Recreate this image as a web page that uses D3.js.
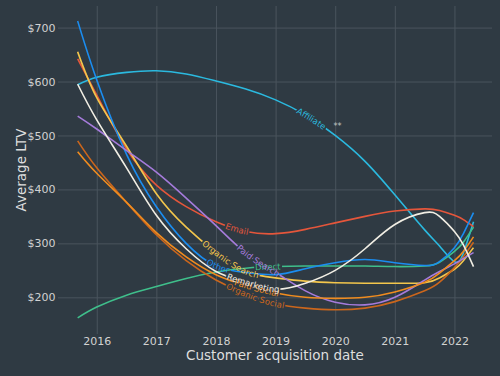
<!DOCTYPE html>
<html lang="en">
<head>
<meta charset="UTF-8">
<title>Average LTV by acquisition channel</title>
<script src="https://cdn.jsdelivr.net/npm/d3@7"></script>
<style>
  body { margin: 0; background: #2f3a43; }
  svg { display: block; font-family: "DejaVu Sans", sans-serif; }
  .axis .domain { display: none; }
  .axis line { stroke: #4a545d; stroke-width: 1; }
  .axis text { fill: #d2d2d2; font-size: 11px; font-family: "DejaVu Sans", sans-serif; }
  .title { fill: #dedede; font-size: 13.5px; }
</style>
</head>
<body>
<div id="chart"></div>
<script>

  // years of the smoothed points (x), one shared grid for all channels
  var years = [2015.68, 2016, 2016.5, 2017, 2017.5, 2018, 2018.5, 2019, 2019.5, 2020, 2020.5, 2021, 2021.5, 2021.75, 2022, 2022.15, 2022.32];

  // average LTV per channel
  var affiliate     = [594, 608, 617, 620, 614, 601, 586, 566, 538, 500, 452, 390, 325, 295, 266, 282, 340];
  var direct        = [162, 182, 204, 220, 235, 247, 254, 257, 258, 258, 258, 257, 258, 265, 285, 302, 330];
  var email         = [642, 575, 475, 408, 368, 340, 322, 318, 326, 338, 350, 360, 364, 361, 352, 344, 331];
  var organicSearch = [655, 570, 480, 392, 330, 283, 248, 236, 230, 227, 226, 226, 227, 236, 252, 268, 292];
  var organicSocial = [490, 440, 376, 316, 268, 232, 206, 188, 180, 177, 180, 192, 212, 228, 255, 275, 302];
  var other         = [712, 603, 465, 368, 300, 258, 246, 242, 253, 264, 270, 264, 259, 266, 292, 318, 357];
  var paidSearch    = [536, 512, 472, 432, 384, 333, 282, 246, 212, 191, 186, 200, 232, 248, 262, 272, 283];
  var paidSocial    = [470, 430, 376, 320, 275, 242, 222, 208, 200, 198, 200, 210, 228, 245, 268, 285, 312];
  var remarketing   = [595, 529, 440, 352, 290, 248, 228, 215, 226, 250, 290, 335, 357, 350, 322, 297, 257];

  var channels = ["Affiliate", "Direct", "Email", "Organic Search", "Organic Social", "Other", "Paid Search", "Paid Social", "Remarketing"];
  var values = [affiliate, direct, email, organicSearch, organicSocial, other, paidSearch, paidSocial, remarketing];
  // where along x each label sits (year at label centre)
  var labelYears = [2019.6, 2018.87, 2018.35, 2018.22, 2018.65, 2018.03, 2018.7, 2018.68, 2018.62];
  var colors = ["#2bb9df", "#3fbf8b", "#e5563b", "#f3c64c", "#cb661c", "#1b8df0", "#a57bdb", "#f08c1f", "#f1eee4"];

  var yTicks = [200, 300, 400, 500, 600, 700];
  var xTicks = [2016, 2017, 2018, 2019, 2020, 2021, 2022];

  // significance mark next to Affiliate
  var noteYear = 2020.04, noteValue = 512, noteText = "**";

  var W = 500, H = 376;
  var padL = 58, padR = 492, padT = 6, padB = 334;

  var x = d3.scaleLinear().domain([2015.35, 2022.63]).range([padL, padR]);
  var y = d3.scaleLinear().domain([132, 740]).range([padB, padT]);

  var svg = d3.select("#chart").append("svg")
    .attr("width", W)
    .attr("height", H);

  svg.append("rect").attr("width", W).attr("height", H).attr("fill", "#2f3a43");

  var defs = svg.append("defs");

  // grid + tick labels
  svg.append("g")
    .attr("class", "axis")
    .attr("transform", "translate(" + padL + ",0)")
    .call(d3.axisLeft(y).tickValues(yTicks).tickSize(-(padR - padL)).tickPadding(2.5)
      .tickFormat(function (d) { return "$" + d; }));

  svg.append("g")
    .attr("class", "axis")
    .attr("transform", "translate(0," + padB + ")")
    .call(d3.axisBottom(x).tickValues(xTicks).tickSize(-(padB - padT)).tickPadding(3)
      .tickFormat(d3.format("d")));

  // axis titles
  svg.append("text")
    .attr("class", "title")
    .attr("x", (padL + padR) / 2)
    .attr("y", 360)
    .attr("text-anchor", "middle")
    .text("Customer acquisition date");

  svg.append("text")
    .attr("class", "title")
    .attr("transform", "translate(26," + (padT + padB) / 2 + ") rotate(-90)")
    .attr("text-anchor", "middle")
    .text("Average LTV");

  var line = d3.line()
    .x(function (d) { return x(d[0]); })
    .y(function (d) { return y(d[1]); })
    .curve(d3.curveNatural);

  var lines = svg.append("g");
  var labels = svg.append("g");

  // find the length along a path where it reaches a given x
  function lengthAtX(node, px) {
    var lo = 0, hi = node.getTotalLength();
    for (var k = 0; k < 40; k++) {
      var mid = (lo + hi) / 2;
      if (node.getPointAtLength(mid).x < px) lo = mid; else hi = mid;
    }
    return (lo + hi) / 2;
  }

  channels.forEach(function (name, i) {
    var pts = years.map(function (yr, j) { return [yr, values[i][j]]; });

    var path = lines.append("path")
      .attr("id", "curve" + i)
      .attr("d", line(pts))
      .attr("fill", "none")
      .attr("stroke", colors[i])
      .attr("stroke-width", 1.6)
      .attr("mask", "url(#gap" + i + ")");

    var offset = lengthAtX(path.node(), x(labelYears[i]));

    // cut the line where its label sits
    var mask = defs.append("mask")
      .attr("id", "gap" + i)
      .attr("maskUnits", "userSpaceOnUse")
      .attr("x", 0).attr("y", 0).attr("width", W).attr("height", H);
    mask.append("rect").attr("width", W).attr("height", H).attr("fill", "white");
    mask.append("text")
      .attr("font-size", 8.5)
      .attr("dy", "0.34em")
      .attr("fill", "black")
      .attr("stroke", "black")
      .attr("stroke-width", 3.5)
      .append("textPath")
      .attr("href", "#curve" + i)
      .attr("startOffset", offset)
      .attr("text-anchor", "middle")
      .text(name);

    labels.append("text")
      .attr("font-size", 8.5)
      .attr("dy", "0.34em")
      .attr("fill", colors[i])
      .append("textPath")
      .attr("href", "#curve" + i)
      .attr("startOffset", offset)
      .attr("text-anchor", "middle")
      .text(name);
  });

  svg.append("text")
    .attr("x", x(noteYear))
    .attr("y", y(noteValue))
    .attr("text-anchor", "middle")
    .attr("font-size", 8)
    .attr("fill", "#c4c4c4")
    .text(noteText);

</script>
</body>
</html>
